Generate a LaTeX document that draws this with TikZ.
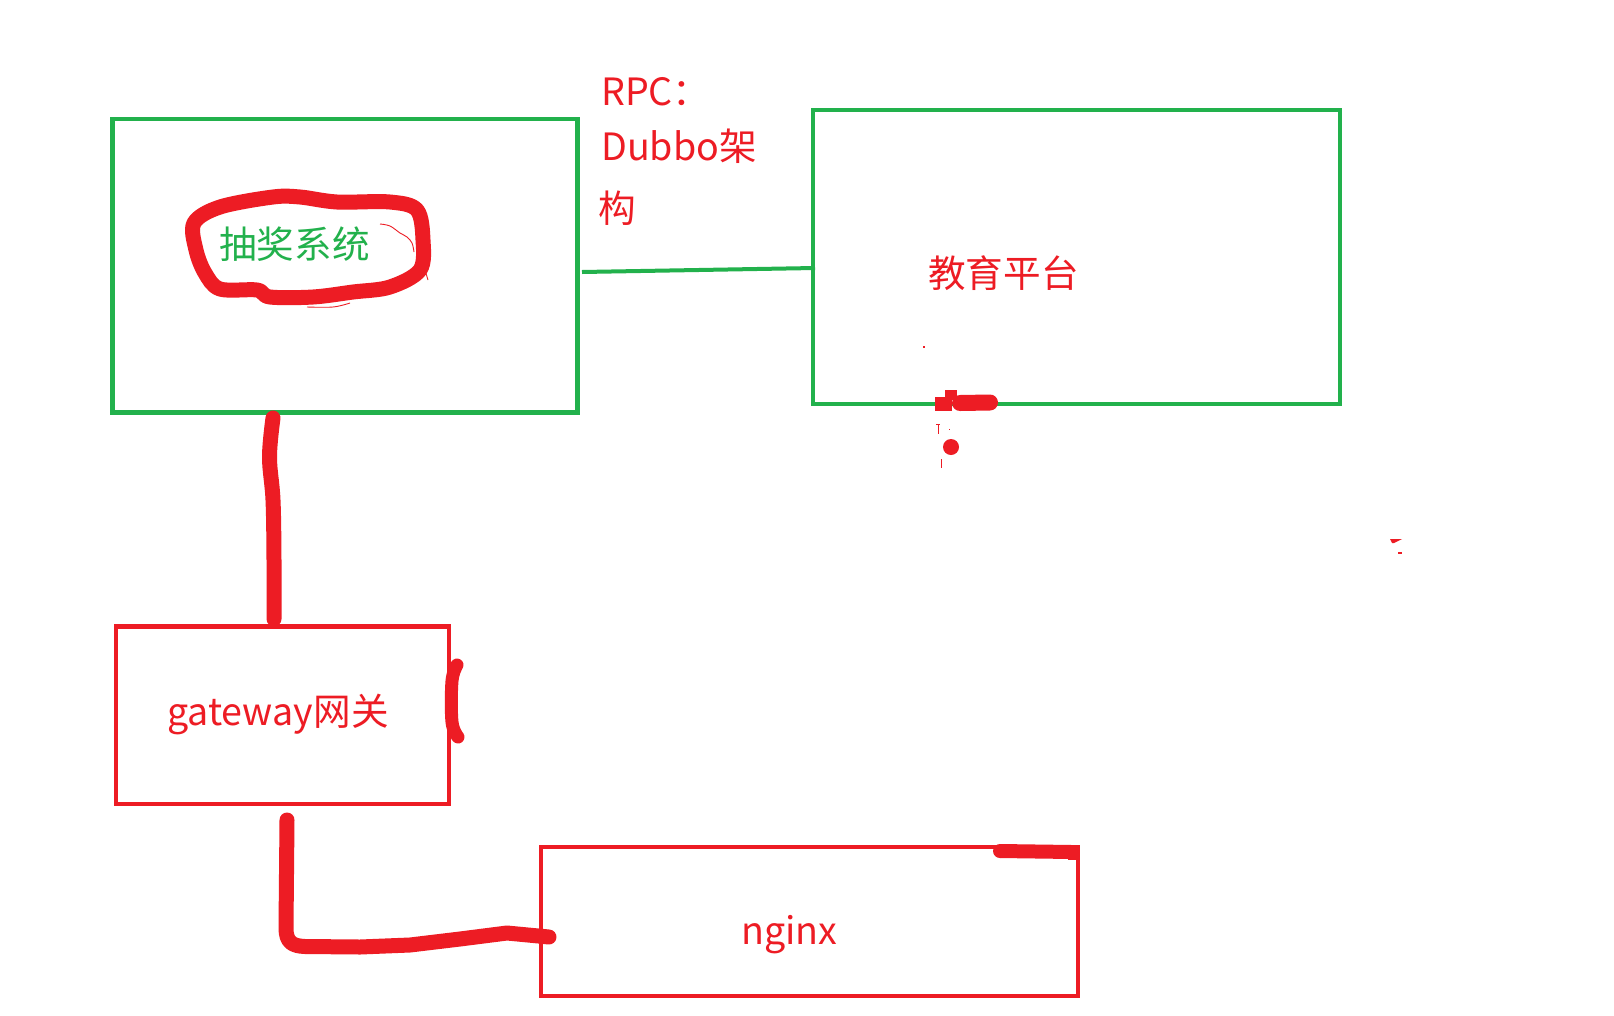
\documentclass[tikz,border=0pt]{standalone}
\usepackage{fontspec}
\setmainfont{Noto Sans CJK SC}
\definecolor{pgreen}{RGB}{34,177,76}
\definecolor{pred}{RGB}{237,28,36}
\begin{document}
\begin{tikzpicture}[x=1pt,y=-1pt,
  gbox/.style={draw=pgreen,line width=4.3pt,rectangle,inner sep=0pt,outer sep=0pt},
  rbox/.style={draw=pred,line width=4.3pt,rectangle,inner sep=0pt,outer sep=0pt},
  lbl/.style={inner sep=0pt,anchor=base west,font=\fontsize{37.6pt}{45pt}\selectfont},
  marker/.style={draw=pred,line width=15pt,line cap=round,line join=round},
  thinred/.style={draw=pred,line width=0.9pt},
  gline/.style={draw=pgreen,line width=4pt}]
\useasboundingbox[fill=white] (0,0) rectangle (1614,1015);

% boxes
\node[gbox,minimum width=465pt,minimum height=293.5pt] (lottery) at (345,265.75) {};
\node[gbox,minimum width=527pt,minimum height=294pt] (edu) at (1076.5,257) {};
\node[rbox,minimum width=333pt,minimum height=177.5pt] (gateway) at (282.5,715.25) {};
\node[rbox,minimum width=537pt,minimum height=149pt] (nginx) at (809.5,921.5) {};

% texts
\node[lbl,text=pgreen] (tlottery) at (219,258) {抽奖系统};
\node[lbl,text=pred] (tedu) at (928,287) {教育平台};
\node[lbl,text=pred] (tgateway) at (167,725) {gateway网关};
\node[lbl,text=pred] (tnginx) at (741,944) {nginx};
\node[lbl,text=pred] (trpc1) at (601,105) {RPC：};
\node[lbl,text=pred] (trpc2) at (601,160) {Dubbo架};
\node[lbl,text=pred] (trpc3) at (598,222) {构};

% green RPC connector
\coordinate (g1) at (582,272);
\coordinate (g2) at (815,268);
\draw[gline] (g1) -- (g2);

% red connector lottery -> gateway
\coordinate (a1) at (273,418);
\coordinate (a2) at (274,619);
\draw[marker] plot[smooth,tension=0.6] coordinates {(a1) (269.5,457) (273,500) (274,560) (a2)};

% red connector gateway -> nginx
\coordinate (b1) at (287,820);
\coordinate (b2) at (549,937);
\draw[marker] (b1) -- (286,928) .. controls (286,942) and (292,946) .. (305,946.5)
  -- (360,947) -- (410,945) -- (460,939) -- (507,933) -- (b2);

% scribble around lottery text
\draw[marker,line width=15pt] plot[smooth cycle,tension=0.55] coordinates {
  (194,223) (220,207) (273,197) (300,197) (337,202) (390,202) (417,210)
  (423,240) (420,270) (390,287) (353,292) (313,297) (270,297) (257,290)
  (220,289) (205,273) (196,250)};
\draw[thinred] plot[smooth,tension=0.6] coordinates {(380,224) (390,226) (400,233) (407,237) (412,243) (414,252)};
\draw[thinred] plot[smooth,tension=0.6] coordinates {(307,307) (333,307) (350,303)};
\draw[thinred] (425,270) -- (428,280);

% gateway right stroke
\draw[marker,line width=13pt] plot[smooth,tension=0.6] coordinates {(457,665) (452,681) (452,722) (458,737)};

% nginx top-right stroke
\draw[marker,line width=14pt,line cap=butt] (1000,851) -- (1072,852);
\fill[pred] (1000,851) circle (7);
\fill[pred] (1068,845) rectangle (1080,860);

% marks near edu bottom
\fill[pred] (935,397) rectangle (952,411);
\fill[pred] (945,390) rectangle (957,400);
\draw[marker,line width=16pt] (960,403) -- (990,402.5);
\fill[pred] (951,447) circle (8);
\draw[thinred] (938,424) -- (938,434);
\draw[thinred] (936,424.5) -- (940,424.5);
\draw[thinred] (941,459) -- (941,468);
\fill[pred] (923,346) rectangle (925,348);
\fill[pred] (948.5,428.5) rectangle (949.5,429.5);

% stray marks at right
\fill[pred] (1390,539) -- (1402,539) -- (1398,541) -- (1394,543) -- (1392,543) -- cycle;
\fill[pred] (1398,552) rectangle (1402,554);
\end{tikzpicture}
\end{document}
